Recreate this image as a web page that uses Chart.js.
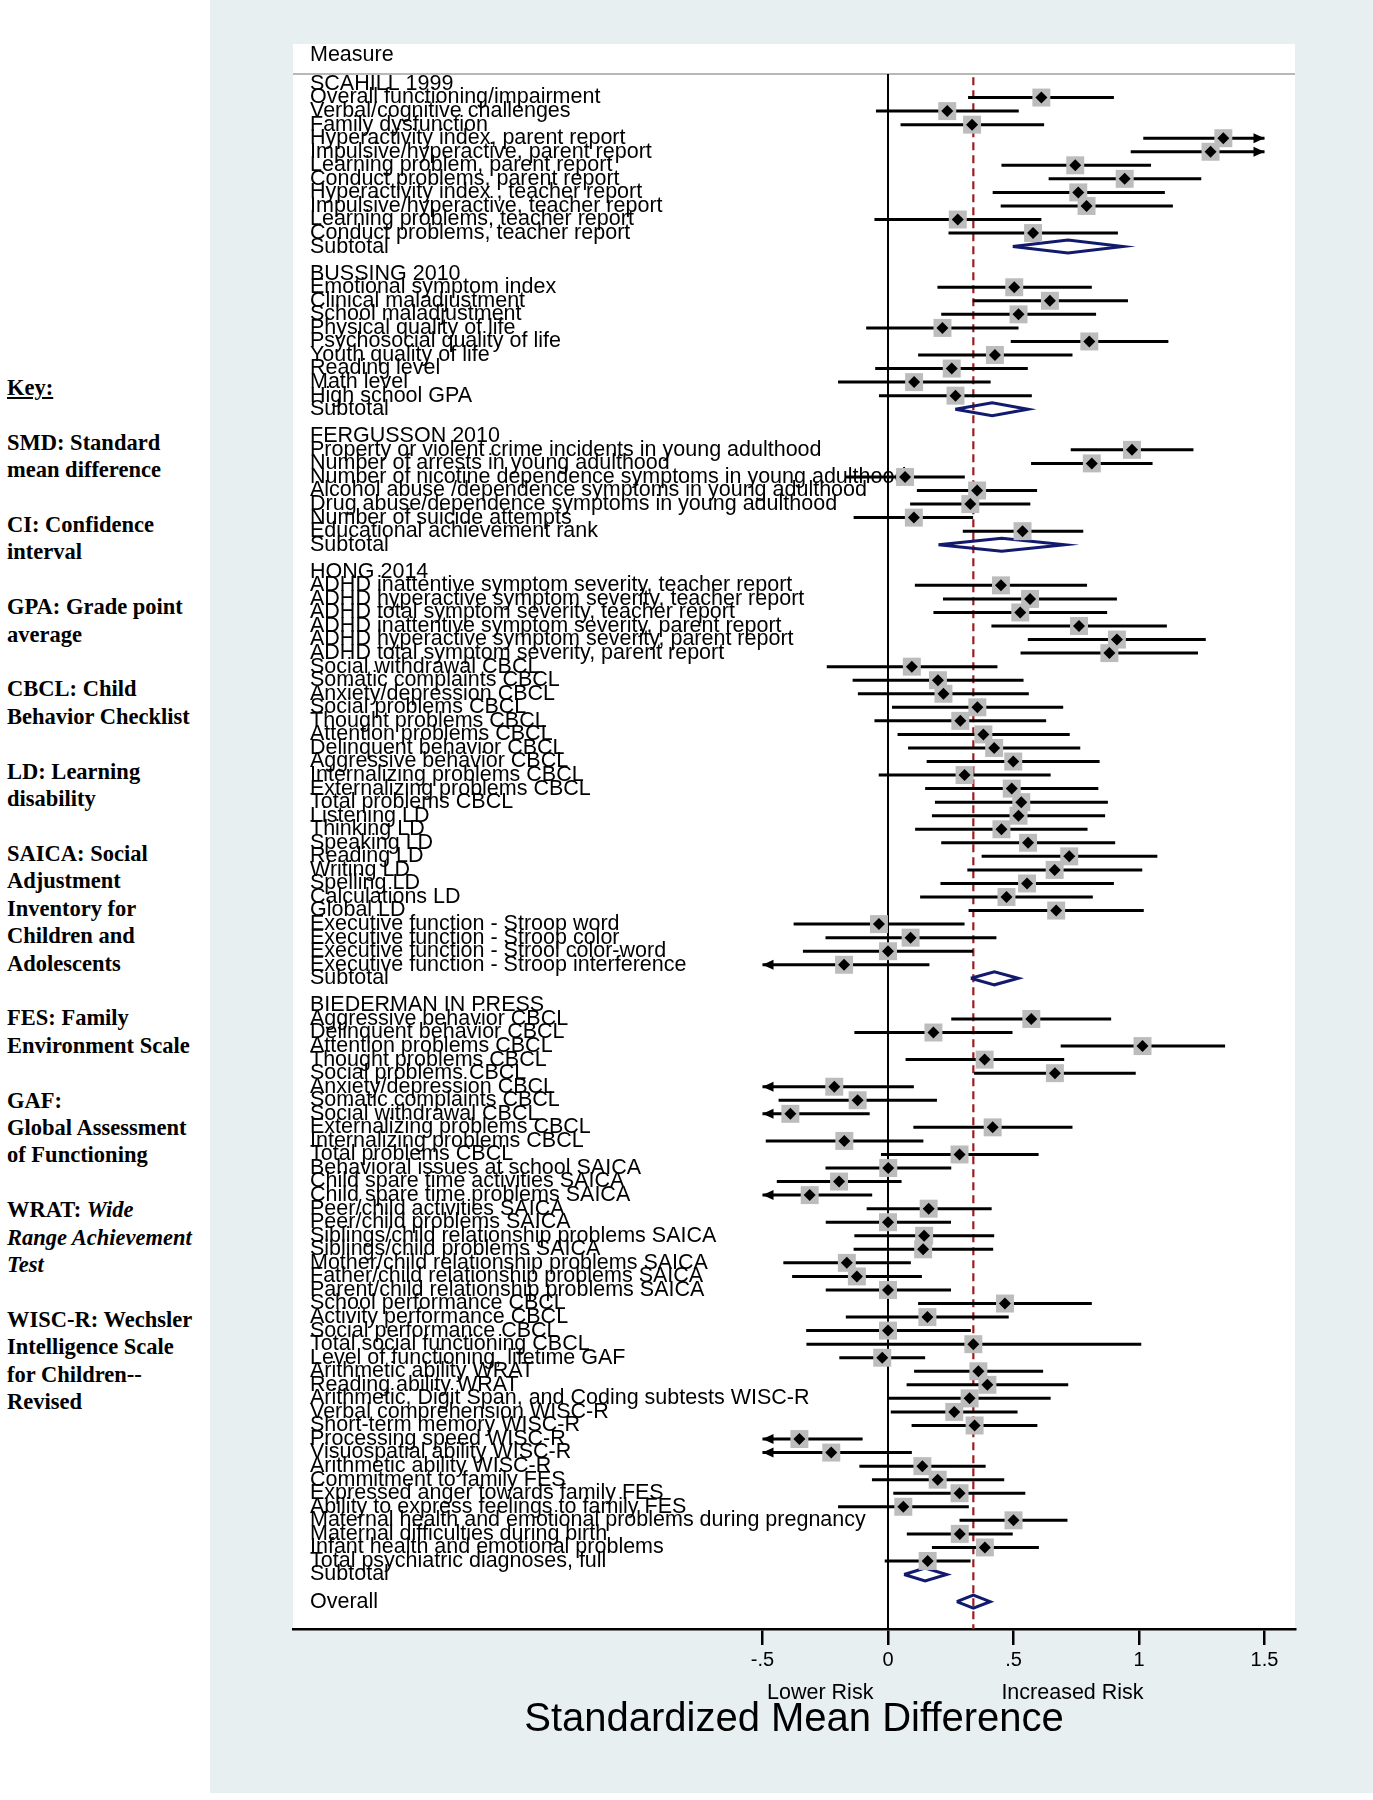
<!DOCTYPE html>
<html>
<head>
<meta charset="utf-8">
<script src="https://cdn.jsdelivr.net/npm/chart.js@4.4.1/dist/chart.umd.min.js"></script>
<style>
  body { margin: 0; background: #fff; }
  #key {
    position: absolute; left: 7px; top: 374px;
    font-family: "Liberation Serif", "Times New Roman", serif;
    font-weight: bold; font-size: 22.5px; line-height: 27.4px;
    white-space: nowrap; color: #000;
  }
  #panel { position: absolute; left: 210px; top: 0; width: 1163px; height: 1793px; background: #e8eff1; }
</style>
</head>
<body>
<div id="key"><u>Key:</u><br><br>SMD: Standard<br>mean difference<br><br>CI: Confidence<br>interval<br><br>GPA: Grade point<br>average<br><br>CBCL: Child<br>Behavior Checklist<br><br>LD: Learning<br>disability<br><br>SAICA: Social<br>Adjustment<br>Inventory for<br>Children and<br>Adolescents<br><br>FES: Family<br>Environment Scale<br><br>GAF:<br>Global Assessment<br>of Functioning<br><br>WRAT: <i>Wide<br>Range Achievement<br>Test</i><br><br>WISC-R: Wechsler<br>Intelligence Scale<br>for Children--<br>Revised</div>
<div id="panel"><canvas id="graficoForest" width="1163" height="1793"></canvas></div>
<script>
var TICK_VALUES = [-0.5, 0, 0.5, 1, 1.5];
var TICK_LABELS = ['-.5', '0', '.5', '1', '1.5'];

var scahillMedidas = ['Overall functioning/impairment', 'Verbal/cognitive challenges', 'Family dysfunction',
    'Hyperactivity index, parent report', 'Impulsive/hyperactive, parent report', 'Learning problem, parent report',
    'Conduct problems, parent report', 'Hyperactivity index , teacher report', 'Impulsive/hyperactive, teacher report',
    'Learning problems, teacher report', 'Conduct problems, teacher report'];
var scahillSmd = [0.611, 0.236, 0.335, 1.336, 1.285, 0.746, 0.943, 0.758, 0.791, 0.278, 0.578];
var scahillLo  = [0.319, -0.048, 0.050, 1.017, 0.967, 0.452, 0.640, 0.417, 0.449, -0.054, 0.241];
var scahillHi  = [0.900, 0.521, 0.622, 1.655, 1.603, 1.048, 1.248, 1.103, 1.135, 0.611, 0.916];
var scahillSubtotal = [0.717, 0.497, 0.936];

var bussingMedidas = ['Emotional symptom index', 'Clinical maladjustment', 'School maladjustment',
    'Physical quality of life', 'Psychosocial quality of life', 'Youth quality of life',
    'Reading level', 'Math level', 'High school GPA'];
var bussingSmd = [0.503, 0.645, 0.520, 0.217, 0.802, 0.426, 0.254, 0.104, 0.269];
var bussingLo  = [0.197, 0.338, 0.212, -0.087, 0.489, 0.120, -0.051, -0.199, -0.036];
var bussingHi  = [0.812, 0.956, 0.829, 0.520, 1.117, 0.735, 0.557, 0.409, 0.573];
var bussingSubtotal = [0.415, 0.268, 0.558];

var fergussonMedidas = ['Property or violent crime incidents in young adulthood', 'Number of arrests in young adulthood',
    'Number of nicotine dependence symptoms in young adulthood', 'Alcohol abuse /dependence symptoms in young adulthood',
    'Drug abuse/dependence symptoms in young adulthood', 'Number of suicide attempts', 'Educational achievement rank'];
var fergussonSmd = [0.972, 0.812, 0.068, 0.355, 0.328, 0.103, 0.536];
var fergussonLo  = [0.728, 0.570, -0.170, 0.115, 0.088, -0.137, 0.298];
var fergussonHi  = [1.217, 1.054, 0.306, 0.594, 0.567, 0.339, 0.778];
var fergussonSubtotal = [0.453, 0.201, 0.704];

var hongMedidas = ['ADHD inattentive symptom severity, teacher report', 'ADHD hyperactive symptom severity, teacher report',
    'ADHD total symptom severity, teacher report', 'ADHD inattentive symptom severity, parent report',
    'ADHD hyperactive symptom severity, parent report', 'ADHD total symptom severity, parent report',
    'Social withdrawal CBCL', 'Somatic complaints CBCL', 'Anxiety/depression CBCL', 'Social problems CBCL',
    'Thought problems CBCL', 'Attention problems CBCL', 'Delinquent behavior CBCL', 'Aggressive behavior CBCL',
    'Internalizing problems CBCL', 'Externalizing problems CBCL', 'Total problems CBCL', 'Listening LD',
    'Thinking LD', 'Speaking LD', 'Reading LD', 'Writing LD', 'Spelling LD', 'Calculations LD', 'Global LD',
    'Executive function - Stroop word', 'Executive function - Stroop color', 'Executive function - Strool color-word',
    'Executive function - Stroop interference'];
var hongSmd = [0.450, 0.566, 0.527, 0.761, 0.912, 0.882, 0.095, 0.199, 0.221, 0.356, 0.288, 0.380, 0.423, 0.499,
    0.305, 0.493, 0.531, 0.520, 0.452, 0.558, 0.722, 0.664, 0.554, 0.472, 0.670, -0.036, 0.090, 0.000, -0.175];
var hongLo = [0.107, 0.219, 0.181, 0.412, 0.557, 0.528, -0.244, -0.141, -0.120, 0.016, -0.054, 0.038, 0.080, 0.154,
    -0.037, 0.148, 0.187, 0.175, 0.108, 0.212, 0.373, 0.316, 0.209, 0.128, 0.321, -0.376, -0.249, -0.339, -0.515];
var hongHi = [0.793, 0.912, 0.873, 1.111, 1.266, 1.235, 0.436, 0.540, 0.561, 0.698, 0.630, 0.724, 0.766, 0.843,
    0.648, 0.838, 0.876, 0.865, 0.795, 0.905, 1.073, 1.013, 0.900, 0.816, 1.019, 0.305, 0.432, 0.339, 0.165];
var hongSubtotal = [0.424, 0.330, 0.519];

var biedermanMedidas = ['Aggressive behavior CBCL', 'Delinquent behavior CBCL', 'Attention problems CBCL',
    'Thought problems CBCL', 'Social problems CBCL', 'Anxiety/depression CBCL', 'Somatic complaints CBCL',
    'Social withdrawal CBCL', 'Externalizing problems CBCL', 'Internalizing problems CBCL', 'Total problems CBCL',
    'Behavioral issues at school SAICA', 'Child spare time activities SAICA', 'Child spare time problems SAICA',
    'Peer/child activities SAICA', 'Peer/child problems SAICA', 'Siblings/child relationship problems SAICA',
    'Siblings/child problems SAICA', 'Mother/child relationship problems SAICA', 'Father/child relationship problems SAICA',
    'Parent/child relationship problems SAICA', 'School performance CBCL', 'Activity performance CBCL',
    'Social performance CBCL', 'Total social functioning CBCL', 'Level of functioning, lifetime GAF',
    'Arithmetic ability WRAT', 'Reading ability WRAT', 'Arithmetic, Digit Span, and Coding subtests WISC-R',
    'Verbal comprehension WISC-R', 'Short-term memory WISC-R', 'Processing speed WISC-R', 'Visuospatial ability WISC-R',
    'Arithmetic ability WISC-R', 'Commitment to family FES', 'Expressed anger towards family FES',
    'Ability to express feelings to family FES', 'Maternal health and emotional problems during pregnancy',
    'Maternal difficulties during birth', 'Infant health and emotional problems', 'Total psychiatric diagnoses, full'];
var biedermanSmd = [0.571, 0.181, 1.014, 0.385, 0.665, -0.214, -0.121, -0.389, 0.417, -0.174, 0.285, 0.001,
    -0.195, -0.312, 0.162, 0.000, 0.144, 0.140, -0.164, -0.124, 0.000, 0.466, 0.157, 0.000, 0.340, -0.023,
    0.360, 0.396, 0.325, 0.264, 0.345, -0.353, -0.226, 0.137, 0.198, 0.285, 0.061, 0.500, 0.286, 0.386, 0.158];
var biedermanLo = [0.252, -0.134, 0.688, 0.070, 0.343, -0.531, -0.436, -0.705, 0.101, -0.487, -0.028, -0.249,
    -0.443, -0.561, -0.085, -0.248, -0.134, -0.137, -0.417, -0.382, -0.248, 0.120, -0.168, -0.326, -0.325, -0.194,
    0.104, 0.074, 0.004, 0.011, 0.094, -0.605, -0.547, -0.114, -0.064, 0.021, -0.199, 0.285, 0.075, 0.175, -0.013];
var biedermanHi = [0.889, 0.496, 1.343, 0.702, 0.987, 0.103, 0.195, -0.073, 0.735, 0.141, 0.600, 0.252,
    0.054, -0.063, 0.413, 0.251, 0.423, 0.419, 0.091, 0.135, 0.251, 0.812, 0.481, 0.330, 1.009, 0.148,
    0.618, 0.718, 0.648, 0.516, 0.595, -0.101, 0.095, 0.389, 0.463, 0.547, 0.322, 0.715, 0.497, 0.601, 0.329];
var biedermanSubtotal = [0.148, 0.064, 0.234];

var overallSmd = [0.340, 0.274, 0.407];

var estudios = [
    { nombre: 'SCAHILL 1999', medidas: scahillMedidas, smd: scahillSmd, lo: scahillLo, hi: scahillHi, sub: scahillSubtotal },
    { nombre: 'BUSSING 2010', medidas: bussingMedidas, smd: bussingSmd, lo: bussingLo, hi: bussingHi, sub: bussingSubtotal },
    { nombre: 'FERGUSSON 2010', medidas: fergussonMedidas, smd: fergussonSmd, lo: fergussonLo, hi: fergussonHi, sub: fergussonSubtotal },
    { nombre: 'HONG 2014', medidas: hongMedidas, smd: hongSmd, lo: hongLo, hi: hongHi, sub: hongSubtotal },
    { nombre: 'BIEDERMAN IN PRESS', medidas: biedermanMedidas, smd: biedermanSmd, lo: biedermanLo, hi: biedermanHi, sub: biedermanSubtotal }
];

/* layout (pixels / rows), not data */
var X_MIN = -2.3705, X_MAX = 1.6215;
var ROWS_ABOVE = 2.952, ROWS_BELOW = 2.02, SEP_ROW = 0.26, DASH_ROW = 0.5;
var DIAMANTE_H = 0.48;
var ALTO_EJE = 164;
var FUENTE = '"Liberation Sans", Arial, sans-serif';
var FUENTE_ETIQUETA = '21.5px ' + FUENTE;

function construirFilas() {
    var filas = [];
    estudios.forEach(function (e, k) {
        if (k > 0) filas.push({ tipo: 'blank', texto: '' });
        filas.push({ tipo: 'study', texto: e.nombre });
        e.medidas.forEach(function (m, i) {
            filas.push({ tipo: 'measure', texto: m, est: e.smd[i], lo: e.lo[i], hi: e.hi[i] });
        });
        filas.push({ tipo: 'subtotal', texto: 'Subtotal', est: e.sub[0], lo: e.sub[1], hi: e.sub[2] });
    });
    filas.push({ tipo: 'blank', texto: '' });
    filas.push({ tipo: 'overall', texto: 'Overall', est: overallSmd[0], lo: overallSmd[1], hi: overallSmd[2] });
    filas.forEach(function (f, i) { f.fila = i + 1; });
    return filas;
}

var filas = construirFilas();
var Y_MIN = 1 - ROWS_ABOVE;
var Y_MAX = filas.length + ROWS_BELOW;
var X_CLIP = [TICK_VALUES[0], TICK_VALUES[TICK_VALUES.length - 1]];

function recortar(v) { return Math.max(X_CLIP[0], Math.min(X_CLIP[1], v)); }

var medidas = filas.filter(function (f) { return f.tipo === 'measure'; });
var resumenes = filas.filter(function (f) { return f.tipo === 'subtotal' || f.tipo === 'overall'; });

var ciData = [];
medidas.forEach(function (f) {
    ciData.push({ x: recortar(f.lo), y: f.fila }, { x: recortar(f.hi), y: f.fila }, { x: null, y: null });
});
var diamData = [];
resumenes.forEach(function (f) {
    diamData.push({ x: f.lo, y: f.fila }, { x: f.est, y: f.fila - DIAMANTE_H }, { x: f.hi, y: f.fila },
        { x: f.est, y: f.fila + DIAMANTE_H }, { x: f.lo, y: f.fila }, { x: null, y: null });
});
var puntos = medidas.map(function (f) { return { x: f.est, y: f.fila }; });

/* ── textos, panel blanco y flechas ── */
var pluginForest = {
    id: 'forest',
    beforeDraw: function (chart) {
        var a = chart.chartArea, ctx = chart.ctx;
        ctx.save();
        ctx.fillStyle = '#ffffff';
        ctx.fillRect(a.left, a.top, a.right - a.left, a.bottom - a.top);
        ctx.restore();
    },
    beforeDatasetsDraw: function (chart) {
        var a = chart.chartArea, ctx = chart.ctx, ys = chart.scales.y;
        ctx.save();
        ctx.fillStyle = '#000';
        ctx.font = FUENTE_ETIQUETA;
        ctx.textAlign = 'left';
        ctx.textBaseline = 'middle';
        ctx.fillText('Measure', a.left + 17, a.top + 11);
        filas.forEach(function (f) {
            if (f.texto) ctx.fillText(f.texto, a.left + 17, ys.getPixelForValue(f.fila));
        });
        ctx.strokeStyle = '#b8b8b8';
        ctx.lineWidth = 2;
        ctx.beginPath();
        ctx.moveTo(a.left, ys.getPixelForValue(SEP_ROW));
        ctx.lineTo(a.right, ys.getPixelForValue(SEP_ROW));
        ctx.stroke();
        ctx.restore();
    },
    afterDatasetsDraw: function (chart) {
        var ctx = chart.ctx, xs = chart.scales.x, ys = chart.scales.y;
        function flecha(px, py, dir) {
            ctx.beginPath();
            ctx.moveTo(px, py);
            ctx.lineTo(px - dir * 11, py - 5);
            ctx.lineTo(px - dir * 11, py + 5);
            ctx.closePath();
            ctx.fill();
        }
        ctx.save();
        ctx.fillStyle = '#000';
        medidas.forEach(function (f) {
            var py = ys.getPixelForValue(f.fila);
            if (f.lo < X_CLIP[0]) flecha(xs.getPixelForValue(X_CLIP[0]), py, -1);
            if (f.hi > X_CLIP[1]) flecha(xs.getPixelForValue(X_CLIP[1]), py, 1);
        });
        ctx.restore();
    },
    afterDraw: function (chart) {
        var a = chart.chartArea, ctx = chart.ctx, xs = chart.scales.x;
        ctx.save();
        ctx.fillStyle = '#000';
        ctx.font = FUENTE_ETIQUETA;
        ctx.textAlign = 'center';
        ctx.textBaseline = 'middle';
        ctx.fillText('Lower Risk', xs.getPixelForValue(-0.27), a.bottom + 64);
        ctx.fillText('Increased Risk', xs.getPixelForValue(0.735), a.bottom + 64);
        ctx.restore();
    }
};

var _chartForest = new Chart(document.getElementById('graficoForest'), {
    type: 'scatter',
    data: {
        datasets: [
            {   // línea de referencia 0
                data: [{ x: 0, y: SEP_ROW }, { x: 0, y: Y_MAX }],
                showLine: true, borderColor: '#000', borderWidth: 2, pointRadius: 0, order: 8
            },
            {   // efecto global
                data: [{ x: overallSmd[0], y: DASH_ROW }, { x: overallSmd[0], y: Y_MAX }],
                showLine: true, borderColor: '#9e1c20', borderWidth: 2.2, borderDash: [8, 5],
                pointRadius: 0, order: 7
            },
            {   // diamantes subtotal / overall
                data: diamData,
                showLine: true, spanGaps: false, borderColor: '#121a6e', borderWidth: 3,
                borderJoinStyle: 'miter', pointRadius: 0, tension: 0, order: 6
            },
            {   // intervalos de confianza
                data: ciData,
                showLine: true, spanGaps: false, borderColor: '#000', borderWidth: 3,
                borderCapStyle: 'butt', pointRadius: 0, order: 5
            },
            {   // cuadros de peso
                data: puntos,
                pointStyle: 'rect', pointRadius: 12.7, backgroundColor: '#bcbcbc',
                borderWidth: 0, order: 4
            },
            {   // estimación puntual
                data: puntos,
                pointStyle: 'rectRot', pointRadius: 6, backgroundColor: '#000',
                borderWidth: 0, order: 3
            }
        ]
    },
    options: {
        responsive: false,
        animation: false,
        events: [],
        layout: { padding: { left: 83, right: 78, top: 44, bottom: 0 } },
        plugins: { legend: { display: false }, tooltip: { enabled: false } },
        scales: {
            x: {
                type: 'linear', min: X_MIN, max: X_MAX, bounds: 'data',
                afterBuildTicks: function (s) { s.ticks = TICK_VALUES.map(function (v) { return { value: v }; }); },
                afterFit: function (s) { s.height = ALTO_EJE; },
                ticks: {
                    callback: function (v, i) { return TICK_LABELS[i]; },
                    color: '#000', font: { family: FUENTE, size: 20 }, padding: 3,
                    maxRotation: 0, autoSkip: false
                },
                grid: { drawOnChartArea: false, drawTicks: true, tickLength: 16, color: '#000', lineWidth: 2.5 },
                border: { display: true, color: '#000', width: 2.5 },
                title: {
                    display: true, text: 'Standardized Mean Difference', color: '#000',
                    font: { family: FUENTE, size: 40 }, padding: { top: 0, bottom: 49 }
                }
            },
            y: { type: 'linear', reverse: true, min: Y_MIN, max: Y_MAX, display: false }
        }
    },
    plugins: [pluginForest]
});
</script>
</body>
</html>
